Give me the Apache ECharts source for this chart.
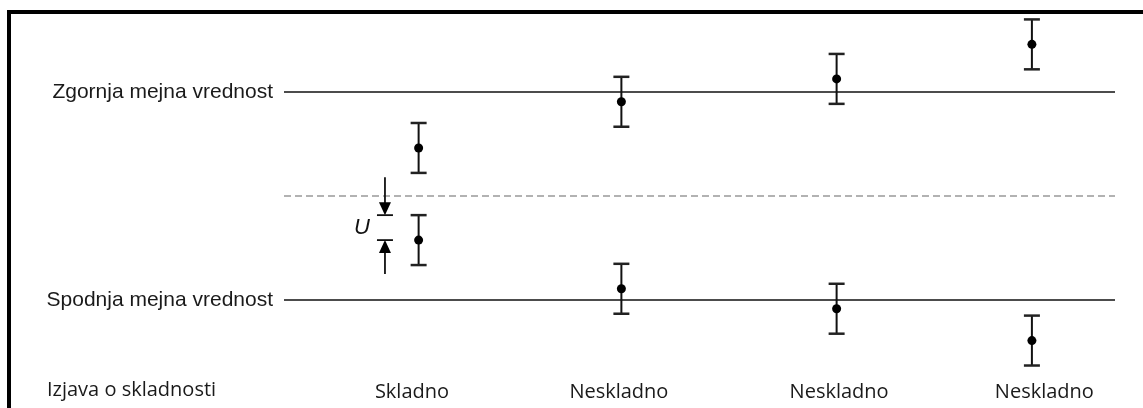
<!DOCTYPE html>
<html>
<head>
<meta charset="utf-8">
<script src="https://cdn.jsdelivr.net/npm/echarts@6/dist/echarts.min.js"></script>
<style>
html,body{margin:0;padding:0;background:#fff;}
#chart{width:1143px;height:408px;}
</style>
</head>
<body>
<div id="chart"></div>
<script>
// ---- data ----
const categories = ['Skladno', 'Neskladno', 'Neskladno', 'Neskladno'];
const pointX = [16.2, 40.6, 66.5, 90.0];          // horizontal position of each pair of results
const labelX = [15.4, 40.3, 66.8, 91.5];          // where each conformity statement sits
const upperResults = [7.31, 9.53, 10.63, 12.29];  // results near the upper limit
const lowerResults = [2.88, 0.54, -0.42, -1.95];  // results near the lower limit
const uncertainty = 1.2;                          // U
const limitValues = [0, 10];
const limitNames = ['Spodnja mejna vrednost', 'Zgornja mejna vrednost'];
const midValue = 5;
const statementTitle = 'Izjava o skladnosti';
const uAnnotX = 12.15;

const chart = echarts.init(document.getElementById('chart'), null, {renderer: 'canvas'});

const resultData = [];
for (let i = 0; i < pointX.length; i++) {
  resultData.push([pointX[i], upperResults[i]]);
  resultData.push([pointX[i], lowerResults[i]]);
}

function renderErrorBar(params, api) {
  const x = api.value(0), y = api.value(1);
  const c = api.coord([x, y]);
  const t = api.coord([x, y + uncertainty]);
  const b = api.coord([x, y - uncertainty]);
  const cw = 8;
  return {
    type: 'group',
    children: [
      {type: 'line', shape: {x1: c[0], y1: t[1], x2: c[0], y2: b[1]}, style: {stroke: '#111', lineWidth: 2}},
      {type: 'line', shape: {x1: c[0] - cw, y1: t[1], x2: c[0] + cw, y2: t[1]}, style: {stroke: '#222', lineWidth: 2.5}},
      {type: 'line', shape: {x1: c[0] - cw, y1: b[1], x2: c[0] + cw, y2: b[1]}, style: {stroke: '#222', lineWidth: 2.5}},
      {type: 'circle', shape: {cx: c[0], cy: c[1], r: 4.5}, style: {fill: '#000'}}
    ]
  };
}

function renderU(params, api) {
  const x = api.value(0), y = api.value(1);
  const top = api.coord([x, y + uncertainty]);
  const bot = api.coord([x, y]);
  const px = top[0];
  const ty = top[1], by = bot[1];
  const hw = 6, hh = 13, tw = 8;
  return {
    type: 'group',
    children: [
      {type: 'line', shape: {x1: px, y1: ty - 38, x2: px, y2: ty - hh + 1}, style: {stroke: '#111', lineWidth: 1.8}},
      {type: 'polygon', shape: {points: [[px - hw, ty - hh], [px + hw, ty - hh], [px, ty]]}, style: {fill: '#000'}},
      {type: 'line', shape: {x1: px - tw, y1: ty, x2: px + tw, y2: ty}, style: {stroke: '#111', lineWidth: 1.8}},
      {type: 'line', shape: {x1: px, y1: by + hh - 1, x2: px, y2: by + 34}, style: {stroke: '#111', lineWidth: 1.8}},
      {type: 'polygon', shape: {points: [[px - hw, by + hh], [px + hw, by + hh], [px, by]]}, style: {fill: '#000'}},
      {type: 'line', shape: {x1: px - tw, y1: by, x2: px + tw, y2: by}, style: {stroke: '#111', lineWidth: 1.8}},
      {type: 'text', x: px - 23, y: (ty + by) / 2, style: {
        text: 'U', fontFamily: 'Liberation Sans', fontStyle: 'italic', fontSize: 22,
        fill: '#111', align: 'center', verticalAlign: 'middle'}}
    ]
  };
}

const option = {
  animation: false,
  backgroundColor: '#fff',
  grid: {left: 284, right: 28, top: 92, bottom: 108, containLabel: false},
  xAxis: {
    type: 'value', min: 0, max: 100,
    axisLine: {show: false}, axisTick: {show: false}, splitLine: {show: false},
    axisLabel: {
      customValues: labelX,
      margin: 82,
      fontFamily: 'Open Sans', fontSize: 20, color: '#1a1a1a',
      formatter: function (v) {
        let best = 0;
        for (let i = 0; i < labelX.length; i++) if (Math.abs(labelX[i] - v) < Math.abs(labelX[best] - v)) best = i;
        return categories[best];
      }
    }
  },
  yAxis: {
    type: 'value', min: 0, max: 10, interval: 10,
    axisLine: {show: false}, axisTick: {show: false}, splitLine: {show: false},
    axisLabel: {
      margin: 11,
      fontFamily: 'Liberation Sans', fontSize: 21, color: '#1a1a1a',
      formatter: function (v) {
        const i = limitValues.indexOf(v);
        return i >= 0 ? limitNames[i] : '';
      }
    }
  },
  graphic: [
    {type: 'polyline', shape: {points: [[9, 408], [9, 12], [1143, 12]]},
     style: {stroke: '#000', lineWidth: 4, fill: null}, z: 100},
    {type: 'text', left: 47, top: 380, style: {
      text: statementTitle, fontFamily: 'Open Sans', fontSize: 20, fill: '#1a1a1a'}}
  ],
  series: [
    {
      type: 'line', data: [], silent: true,
      markLine: {
        silent: true, symbol: 'none', label: {show: false},
        data: [
          {yAxis: limitValues[1], lineStyle: {color: '#111', width: 1.5, type: 'solid'}},
          {yAxis: limitValues[0], lineStyle: {color: '#111', width: 1.5, type: 'solid'}},
          {yAxis: midValue, lineStyle: {color: '#999', width: 1.5, type: [7, 4]}}
        ]
      }
    },
    {
      type: 'custom', clip: false, silent: true,
      renderItem: renderErrorBar,
      data: resultData, z: 5
    },
    {
      type: 'custom', clip: false, silent: true,
      renderItem: renderU,
      data: [[uAnnotX, lowerResults[0]]], z: 5
    }
  ]
};
chart.setOption(option);
</script>
</body>
</html>
